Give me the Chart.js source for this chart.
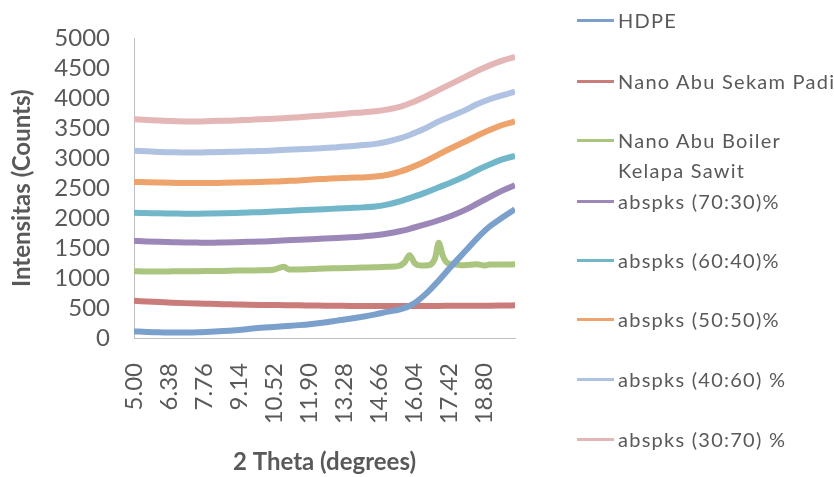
<!DOCTYPE html>
<html><head><meta charset="utf-8">
<script src="https://cdn.jsdelivr.net/npm/chart.js@4.4.1/dist/chart.umd.min.js"></script>
<style>
html,body{margin:0;padding:0;background:#fff;}
#wrap{position:relative;width:834px;height:477px;overflow:hidden;}
#c{position:absolute;left:0;top:0;}
.lg{position:absolute;left:577px;font-family:Lato,"Open Sans",sans-serif;font-size:20px;letter-spacing:1.25px;color:#595959;line-height:30px;white-space:nowrap;}
.lg i{position:absolute;left:0;width:37px;height:3px;}
.lg span{position:absolute;left:41px;}
</style></head>
<body><div id="wrap"><canvas id="c" width="834" height="477"></canvas><div id="legend"></div></div>
<script>
// 2-theta grid (degrees)
const theta = [5.0,5.5,6.0,6.5,7.0,7.5,8.0,8.5,9.0,9.5,10.0,10.5,11.0,11.5,12.0,12.5,13.0,13.5,14.0,14.5,15.0,15.5,16.0,16.5,17.0,17.5,18.0,18.5,19.0,19.5,20.0];
const xTickLabels = [5.00,6.38,7.76,9.14,10.52,11.90,13.28,14.66,16.04,17.42,18.80];
const yTickValues = [0,500,1000,1500,2000,2500,3000,3500,4000,4500,5000];
const seriesNames = ["HDPE","Nano Abu Sekam Padi","Nano Abu Boiler\nKelapa Sawit","abspks (70:30)%","abspks (60:40)%","abspks (50:50)%","abspks (40:60) %","abspks (30:70) %"];
const seriesColors = ["#7BA0CC","#C97C7A","#AAC57F","#9C88B8","#72B6C9","#EDA36B","#AFC2E1","#E4B6B6"];

const hdpe   = [110,100,95,90,90,95,105,115,130,150,170,185,200,215,235,260,290,320,355,395,440,480,570,740,960,1200,1430,1660,1860,2010,2150];
const sekam  = [620,610,600,590,582,575,570,565,560,555,552,550,548,545,543,540,538,536,535,534,533,533,535,535,536,537,538,540,540,542,545];
const boilerTheta = [5.0,5.5,6.0,6.5,7.0,7.5,8.0,8.5,9.0,9.5,10.0,10.5,10.9,11.1,11.5,12.0,12.5,13.0,13.5,14.0,14.5,15.0,15.4,15.65,15.85,16.05,16.3,16.6,16.85,17.0,17.15,17.35,17.6,18.0,18.5,18.8,19.0,19.5,20.0];
const boiler = [1115,1110,1110,1112,1115,1115,1118,1120,1125,1128,1130,1140,1190,1145,1145,1150,1160,1165,1170,1175,1180,1190,1200,1260,1380,1250,1210,1215,1330,1590,1380,1250,1230,1215,1230,1210,1225,1225,1230];
const p7030  = [1620,1612,1605,1600,1595,1592,1590,1595,1600,1605,1610,1620,1630,1640,1650,1660,1670,1680,1695,1715,1745,1785,1840,1900,1965,2040,2130,2240,2350,2460,2550];
const p6040  = [2090,2085,2080,2078,2075,2075,2078,2082,2088,2095,2100,2110,2120,2130,2140,2150,2160,2170,2180,2195,2230,2285,2355,2430,2515,2600,2690,2800,2895,2980,3040];
const p5050  = [2605,2600,2595,2590,2585,2585,2585,2590,2595,2600,2605,2610,2620,2630,2645,2655,2665,2675,2680,2695,2725,2780,2860,2955,3065,3170,3270,3375,3470,3555,3615];
const p4060  = [3125,3115,3105,3100,3095,3095,3100,3105,3110,3115,3120,3130,3140,3150,3160,3170,3185,3200,3220,3240,3280,3335,3415,3505,3615,3705,3795,3900,3985,4050,4110];
const p3070  = [3650,3640,3630,3620,3615,3615,3620,3625,3630,3640,3650,3660,3670,3685,3700,3715,3730,3750,3765,3785,3815,3860,3940,4035,4140,4245,4350,4455,4550,4630,4690];

const ys = [hdpe,sekam,boiler,p7030,p6040,p5050,p4060,p3070];
const xs = [theta,theta,boilerTheta,theta,theta,theta,theta,theta];

const datasets = ys.map((arr,i)=>({
  label: seriesNames[i],
  data: arr.map((v,k)=>({x:xs[i][k], y:v})),
  borderColor: seriesColors[i],
  backgroundColor: seriesColors[i],
  borderWidth: 6,
  pointRadius: 0,
  cubicInterpolationMode: 'monotone'
}));
const txt = "#595959";
new Chart(document.getElementById('c'), {
  type: 'line',
  data: { datasets },
  options: {
    responsive: false,
    animation: false,
    layout: { padding: { top: 36, right: 319, left: 8, bottom: 0 } },
    plugins: { legend: { display: false }, tooltip: { enabled: false } },
    scales: {
      x: {
        type: 'linear', min: 5, max: 20,
        afterBuildTicks: (s) => { s.ticks = xTickLabels.map(v => ({ value: v })); },
        afterFit: (s) => { s.height = 139; },
        ticks: { color: txt, font: { family: 'Lato', size: 24 }, minRotation: 90, maxRotation: 90, padding: 25, autoSkip: false,
                 callback: (v) => Number(v).toFixed(2) },
        grid: { display: false, drawTicks: false },
        border: { display: true, color: '#BFBFBF', width: 1 },
        title: { display: true, text: '2 Theta (degrees)', color: txt, font: { family: 'Lato', size: 24, weight: 'bold' }, padding: { top: 0, bottom: 0 } }
      },
      y: {
        min: 0, max: 5000,
        afterBuildTicks: (s) => { s.ticks = yTickValues.map(v => ({ value: v })); },
        afterFit: (s) => { s.width = 126; },
        ticks: { color: txt, font: { family: 'Lato', size: 24 }, padding: 24, autoSkip: false, callback: (v) => String(v) },
        grid: { display: false, drawTicks: false },
        border: { display: true, color: '#BFBFBF', width: 1 },
        title: { display: true, text: 'Intensitas (Counts)', color: txt, font: { family: 'Lato', size: 24, weight: 'bold' }, padding: { top: 0, bottom: 0 } }
      }
    }
  }
});

// legend
const legendTops = [20,81,140,201,260,319,379,439];
const lg = document.getElementById('legend');
seriesNames.forEach((n,i)=>{
  const lines = n.split("\n");
  const d = document.createElement('div');
  d.className = 'lg';
  d.style.top = (legendTops[i]-15)+'px';
  const bar = document.createElement('i');
  bar.style.background = seriesColors[i];
  bar.style.top = '14px';
  d.appendChild(bar);
  lines.forEach((t,j)=>{
    const s = document.createElement('span');
    s.textContent = t;
    s.style.top = (j*30)+'px';
    d.appendChild(s);
  });
  lg.appendChild(d);
});
</script>
</body></html>
